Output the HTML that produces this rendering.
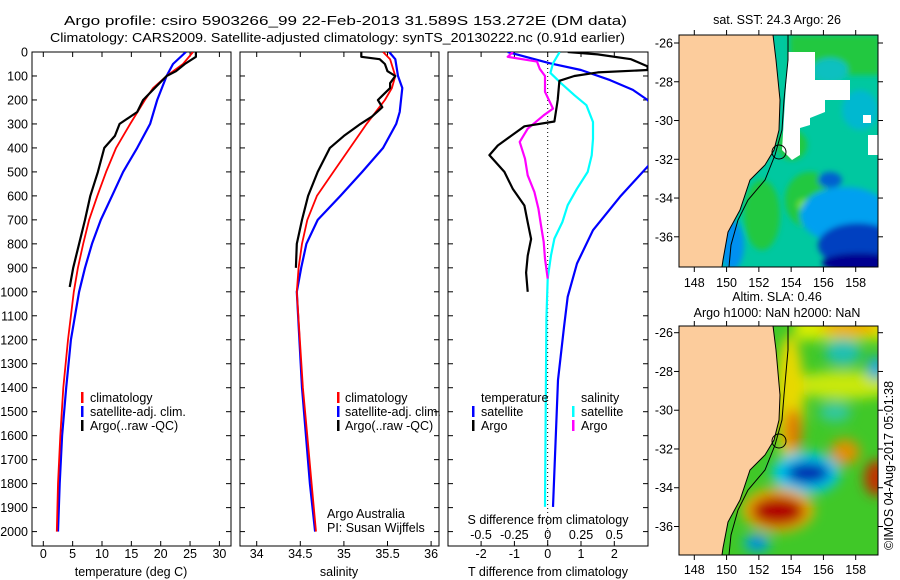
<!DOCTYPE html>
<html><head><meta charset="utf-8"><style>
html,body{margin:0;padding:0;background:#fff}
svg{display:block;font-family:"Liberation Sans",sans-serif;font-size:12.5px}
</style></head><body>
<svg id="fig" width="900" height="580" viewBox="0 0 900 580">
<defs>
<filter id="blur" x="-50%" y="-50%" width="200%" height="200%"><feGaussianBlur stdDeviation="6"/></filter>
<filter id="blur2" x="-50%" y="-50%" width="200%" height="200%"><feGaussianBlur stdDeviation="3"/></filter>
<clipPath id="cp1"><rect x="32" y="52" width="199" height="494"/></clipPath>
<clipPath id="cp2"><rect x="240" y="52" width="199" height="494"/></clipPath>
<clipPath id="cp3"><rect x="448" y="52" width="200" height="494"/></clipPath>
<clipPath id="cpm1"><rect x="679" y="35" width="199" height="232"/></clipPath>
<clipPath id="cpm2"><rect x="679" y="326" width="199" height="229"/></clipPath>
</defs>
<text x="64" y="25" font-size="13" textLength="563" lengthAdjust="spacingAndGlyphs">Argo profile: csiro 5903266_99 22-Feb-2013 31.589S 153.272E (DM data)</text>
<text x="50" y="42" font-size="13" textLength="575" lengthAdjust="spacingAndGlyphs">Climatology: CARS2009. Satellite-adjusted climatology: synTS_20130222.nc (0.91d earlier)</text>

<g id="p1"></g>
<g id="p2"></g>
<g id="p3"></g>

<!-- Top map -->
<g>
<text x="777" y="24" text-anchor="middle">sat. SST: 24.3 Argo: 26</text>
<g clip-path="url(#cpm1)">
<rect x="679" y="35" width="199" height="232" fill="#00c8a0"/>
<g filter="url(#blur2)">
<rect x="790" y="35" width="90" height="40" fill="#20c840"/>
<ellipse cx="830" cy="70" rx="18" ry="12" fill="#10c0c0"/>
<ellipse cx="860" cy="110" rx="18" ry="20" fill="#00b8d0"/>
<ellipse cx="810" cy="200" rx="25" ry="28" fill="#20c840"/>
<ellipse cx="792" cy="145" rx="15" ry="15" fill="#20c840"/>
<ellipse cx="805" cy="205" rx="8" ry="6" fill="#70e030"/>
<ellipse cx="762" cy="215" rx="18" ry="35" fill="#20c840"/>
<ellipse cx="845" cy="215" rx="45" ry="28" fill="#00a0f0"/>
<ellipse cx="858" cy="245" rx="40" ry="22" fill="#0040c0"/>
<ellipse cx="860" cy="263" rx="38" ry="10" fill="#000090"/>
<ellipse cx="830" cy="180" rx="12" ry="8" fill="#0060d0"/>
<ellipse cx="732" cy="245" rx="12" ry="25" fill="#0090f0"/>
</g>
<path d="M788,52 L815,52 L815,80 L850,80 L850,100 L825,100 L825,112 L810,118 L810,125 L800,128 L800,155 L792,160 L782,150 Z" fill="#fff"/>
<rect x="863" y="115" width="8" height="8" fill="#fff"/>
<rect x="868" y="135" width="10" height="20" fill="#fff"/>
<path d="M679,35 L773,35 L776,60 L780,100 L779,130 L774,150 L765,165 L750,180 L740,210 L728,232 L723,260 L722,267 L679,267 Z" fill="#fccc9c" stroke="#000" stroke-width="1"/>
<path d="M788,35 L788,60 L784,100 L782,130 L775,155 L765,180 L748,200 L738,220 L731,245 L729,267" fill="none" stroke="#000" stroke-width="1"/>
<circle cx="779" cy="152" r="7" fill="none" stroke="#000" stroke-width="1"/>
</g>
<rect x="679" y="35" width="199" height="232" fill="none" stroke="#000"/>
<g id="m1ax"></g>
</g>

<!-- Bottom map -->
<g>
<text x="777" y="301" text-anchor="middle">Altim. SLA: 0.46</text>
<text x="777" y="317" text-anchor="middle">Argo h1000: NaN h2000: NaN</text>
<g clip-path="url(#cpm2)">
<rect x="679" y="326" width="199" height="229" fill="#40c828"/>
<g filter="url(#blur)">
<rect x="795" y="315" width="95" height="25" fill="#d8ec00"/>
<ellipse cx="850" cy="328" rx="30" ry="8" fill="#f0a800"/>
<ellipse cx="845" cy="385" rx="55" ry="14" fill="#c8e810"/>
<ellipse cx="790" cy="400" rx="14" ry="65" fill="#e8d800"/>
<ellipse cx="793" cy="430" rx="9" ry="22" fill="#e07800"/>
<ellipse cx="843" cy="352" rx="18" ry="14" fill="#20c0b0"/>
<ellipse cx="876" cy="368" rx="9" ry="12" fill="#20a8e0"/>
<ellipse cx="835" cy="412" rx="16" ry="10" fill="#30c8a0"/>
<ellipse cx="845" cy="452" rx="15" ry="13" fill="#e09000"/>
<ellipse cx="877" cy="478" rx="13" ry="18" fill="#c03000"/>
<ellipse cx="806" cy="473" rx="34" ry="21" fill="#00c8f0"/>
<ellipse cx="808" cy="473" rx="22" ry="11" fill="#0020b0"/>
<ellipse cx="778" cy="510" rx="36" ry="22" fill="#f0b000"/>
<ellipse cx="778" cy="511" rx="27" ry="15" fill="#b00000"/>
<ellipse cx="757" cy="543" rx="13" ry="9" fill="#00b0f0"/>
<ellipse cx="757" cy="543" rx="6" ry="4" fill="#0030c0"/>
</g>
<path d="M679,326 L773,326 L776,350 L780,395 L779,420 L774,440 L765,455 L750,470 L740,500 L728,522 L723,548 L722,555 L679,555 Z" fill="#fccc9c" stroke="#000" stroke-width="1"/>
<path d="M788,326 L788,350 L784,395 L782,420 L775,445 L765,470 L748,490 L738,510 L731,535 L729,555" fill="none" stroke="#000" stroke-width="1"/>
<circle cx="779" cy="441" r="7" fill="none" stroke="#000" stroke-width="1"/>
</g>
<rect x="679" y="326" width="199" height="229" fill="none" stroke="#000"/>
<g id="m2ax"></g>
</g>
<text transform="translate(893,550) rotate(-90)">©IMOS 04-Aug-2017 05:01:38</text>
</svg>
<script>
// ---------- data ----------
const tempArgoDepth=[0,20,50,80,100,150,200,250,300,350,400,500,600,700,800,900,980];
const tempArgo=[26,26,24.1,22.6,21,19,17,16,13,12.2,10.4,9.3,8,7.1,6.1,5.1,4.5];
const tempClimDepth=[0,50,100,150,200,300,400,500,600,700,800,900,1000,1200,1400,1600,1800,2000];
const tempClim=[25.5,23.8,21,18.7,17.3,14.8,12.4,10.7,9.2,7.8,6.8,5.9,5.2,4.2,3.4,2.9,2.5,2.3];
const tempSatDepth=[0,50,100,200,300,400,500,600,700,800,900,1000,1200,1400,1600,1800,2000];
const tempSat=[24.3,22.1,21,19.4,18.2,16,13.6,11.7,9.8,8.3,7.1,6.1,4.7,3.9,3.2,2.8,2.5];

const salArgoDepth=[0,20,30,50,80,100,130,150,200,230,270,300,350,400,500,600,700,800,900];
const salArgo=[35.2,35.2,35.41,35.47,35.5,35.59,35.53,35.53,35.39,35.44,35.32,35.19,35,34.84,34.7,34.59,34.52,34.46,34.45];
const salClimDepth=[0,30,100,150,200,300,400,500,600,700,800,900,1000,1400,1600,1800,2000];
const salClim=[35.45,35.53,35.59,35.55,35.47,35.26,35.07,34.88,34.69,34.58,34.52,34.48,34.46,34.53,34.58,34.63,34.68];
const salSatDepth=[0,30,100,150,250,300,400,500,600,700,800,900,1000,1400,1800,2000];
const salSat=[35.52,35.59,35.62,35.67,35.64,35.6,35.45,35.21,34.96,34.7,34.57,34.51,34.46,34.52,34.61,34.67];

const dTArgoDepth=[0,10,30,60,75,85,100,120,200,290,310,350,390,430,500,570,640,710,780,850,920,1000];
const dTArgo=[0.6,1.5,2.5,3.0,3.0,1.5,0.8,0.35,0.3,0.2,-0.7,-1.1,-1.5,-1.75,-1.3,-1.05,-0.7,-0.6,-0.5,-0.6,-0.65,-0.6];
const dTSatDepth=[0,47,75,117,158,200,300,400,478,604,743,882,1021,1147,1368,1897];
const dTSat=[-1.2,0.07,1,1.87,2.56,3,3.6,3.5,3,2.17,1.36,0.88,0.6,0.49,0.31,0.16];
const dSSatDepth=[0,47,87,130,180,222,292,362,431,500,570,639,709,778,848,945,1112,1500,1897];
const dSSat=[0.09,0.04,0.02,0.1,0.2,0.29,0.34,0.34,0.33,0.3,0.22,0.15,0.11,0.05,0.025,0,-0.01,-0.015,-0.02];
const dSArgoDepth=[0,20,40,70,100,166,236,264,320,375,445,514,584,653,723,792,862,945];
const dSArgo=[-0.26,-0.3,-0.08,-0.06,-0.02,-0.02,0.04,-0.03,-0.15,-0.21,-0.17,-0.15,-0.1,-0.07,-0.05,-0.03,-0.02,0];

const depthTicks=[0,100,200,300,400,500,600,700,800,900,1000,1100,1200,1300,1400,1500,1600,1700,1800,1900,2000];
const tempTicks=[0,5,10,15,20,25,30];
const salTicks=[34,34.5,35,35.5,36];
const salTickLabels=["34","34.5","35","35.5","36"];
const dTTicks=[-2,-1,0,1,2];
const dSTicks=[-0.5,-0.25,0,0.25,0.5];
const dSTickLabels=["-0.5","-0.25","0","0.25","0.5"];
const lonTicks=[148,150,152,154,156,158];
const latTicks=[-26,-28,-30,-32,-34,-36];

// ---------- helpers ----------
const NS="http://www.w3.org/2000/svg";
const svg=document.getElementById('fig');
function mk(tag,attrs,parent){const e=document.createElementNS(NS,tag);for(const k in attrs)e.setAttribute(k,attrs[k]);(parent||svg).appendChild(e);return e;}
const yD=d=>52+0.2398*d;
const xT=t=>43.3+5.87*t;
const xS=s=>256.7+87.2*(s-34);
const xDT=t=>547.7+33.3*t;
const xDS=s=>547.7+133.3*s;

function panel(g,x0,x1,clip,xticks,xscale,labels,showDepth){
  const top=52,bot=546;
  for(const d of depthTicks){
    const y=yD(d);
    mk('line',{x1:x0,x2:x0+5,y1:y,y2:y,stroke:'#000'},g);
    mk('line',{x1:x1-5,x2:x1,y1:y,y2:y,stroke:'#000'},g);
    if(showDepth){const t=mk('text',{x:x0-4,y:y+4.5,'text-anchor':'end'},g);t.textContent=d;
      
      }
  }
  xticks.forEach((v,i)=>{
    const x=xscale(v);
    mk('line',{x1:x,x2:x,y1:top,y2:top+5,stroke:'#000'},g);
    mk('line',{x1:x,x2:x,y1:bot-5,y2:bot,stroke:'#000'},g);
    if(labels){const t=mk('text',{x:x,y:558,'text-anchor':'middle'},g);t.textContent=labels[i];
      
      }
  });
  const r=mk('rect',{x:x0,y:top,width:x1-x0,height:bot-top,fill:'none',stroke:'#000'},g);
  
  
}
function line(g,clip,depths,vals,xs,color,w,name){
  const pts=depths.map((d,i)=>xs(vals[i]).toFixed(1)+','+yD(d).toFixed(1)).join(' ');
  const p=mk('polyline',{points:pts,fill:'none',stroke:color,'stroke-width':w,'clip-path':'url(#'+clip+')','stroke-linejoin':'round'},g);
  
  
}
function txt(g,x,y,s,anchor,name){const t=mk('text',{x:x,y:y,'text-anchor':anchor||'start'},g);t.textContent=s;
  
  return t;}
function bar(g,x,y,color){const r=mk('rect',{x:x,y:y-10,width:2.5,height:11,fill:color},g);
  
  }

// Panel 1
const g1=document.getElementById('p1');
panel(g1,32,231,'cp1',tempTicks,xT,tempTicks.map(String),true);
line(g1,'cp1',tempSatDepth,tempSat,xT,'#0000ff',2.2,'temp-satellite-line');
line(g1,'cp1',tempClimDepth,tempClim,xT,'#ff0000',1.8,'temp-climatology-line');
line(g1,'cp1',tempArgoDepth,tempArgo,xT,'#000',2.2,'temp-argo-line');
txt(g1,131,576,'temperature (deg C)','middle','temperature-axis-title');
bar(g1,81,402,'#f00');txt(g1,90,402,'climatology','start','legend-climatology');
bar(g1,81,416,'#00f');txt(g1,90,416,'satellite-adj. clim.','start','legend-satellite');
bar(g1,81,430,'#000');txt(g1,90,430,'Argo(..raw -QC)','start','legend-argo');

// Panel 2
const g2=document.getElementById('p2');
panel(g2,240,439,'cp2',salTicks,xS,salTickLabels,false);
line(g2,'cp2',salSatDepth,salSat,xS,'#0000ff',2.2,'sal-satellite-line');
line(g2,'cp2',salClimDepth,salClim,xS,'#ff0000',1.8,'sal-climatology-line');
line(g2,'cp2',salArgoDepth,salArgo,xS,'#000',2.2,'sal-argo-line');
txt(g2,339,576,'salinity','middle','salinity-axis-title');
bar(g2,337,402,'#f00');txt(g2,345,402,'climatology','start','legend-climatology');
bar(g2,337,416,'#00f');txt(g2,345,416,'satellite-adj. clim.','start','legend-satellite');
bar(g2,337,430,'#000');txt(g2,345,430,'Argo(..raw -QC)','start','legend-argo');
txt(g2,327,518,'Argo Australia','start','credit-argo-australia');
txt(g2,327,532,'PI: Susan Wijffels','start','credit-pi');

// Panel 3
const g3=document.getElementById('p3');
panel(g3,448,648,'cp3',dTTicks,xDT,null,false);
mk('line',{x1:xDT(0),x2:xDT(0),y1:52,y2:546,stroke:'#000','stroke-dasharray':'1,3'},g3);
line(g3,'cp3',dTSatDepth,dTSat,xDT,'#0000ff',2.2,'dT-satellite-line');
line(g3,'cp3',dSSatDepth,dSSat,xDS,'#00ffff',2.2,'dS-satellite-line');
line(g3,'cp3',dSArgoDepth,dSArgo,xDS,'#ff00ff',2.2,'dS-argo-line');
line(g3,'cp3',dTArgoDepth,dTArgo,xDT,'#000',2.2,'dT-argo-line');
txt(g3,481,402,'temperature','start','legend-temperature-heading');
txt(g3,581,402,'salinity','start','legend-salinity-heading');
bar(g3,472,416,'#00f');txt(g3,481,416,'satellite','start','legend-t-satellite');
bar(g3,472,430,'#000');txt(g3,481,430,'Argo','start','legend-t-argo');
bar(g3,572,416,'#0ff');txt(g3,581,416,'satellite','start','legend-s-satellite');
bar(g3,572,430,'#f0f');txt(g3,581,430,'Argo','start','legend-s-argo');
txt(g3,548,524,'S difference from climatology','middle','s-diff-axis-title');
dSTicks.forEach((v,i)=>txt(g3,xDS(v),539,dSTickLabels[i],'middle','s-diff-tick-label'));
dTTicks.forEach(v=>txt(g3,xDT(v),558,String(v),'middle','t-diff-tick-label'));
txt(g3,548,576,'T difference from climatology','middle','t-diff-axis-title');

// Map axes
function mapAxes(id,x0,x1,y0,y1,lat0y,labelY){
  const g=document.getElementById(id);
  const xL=lon=>694.3+(lon-148)*16.14;
  const yL=lat=>lat0y+(-26-lat)*19.38;
  for(const lon of lonTicks){const x=xL(lon);
    mk('line',{x1:x,x2:x,y1:y0-5,y2:y0,stroke:'#000'},g);
    mk('line',{x1:x,x2:x,y1:y1,y2:y1+5,stroke:'#000'},g);
    txt(g,x,labelY,String(lon),'middle','map-lon-label');}
  for(const lat of latTicks){const y=yL(lat);
    mk('line',{x1:x0-5,x2:x0,y1:y,y2:y,stroke:'#000'},g);
    mk('line',{x1:x1,x2:x1+5,y1:y,y2:y,stroke:'#000'},g);
    txt(g,x0-6,y+4.5,String(lat),'end','map-lat-label');}
}
mapAxes('m1ax',679,878,35,267,43,287);
mapAxes('m2ax',679,878,326,555,332.7,574);
</script>
</body></html>
